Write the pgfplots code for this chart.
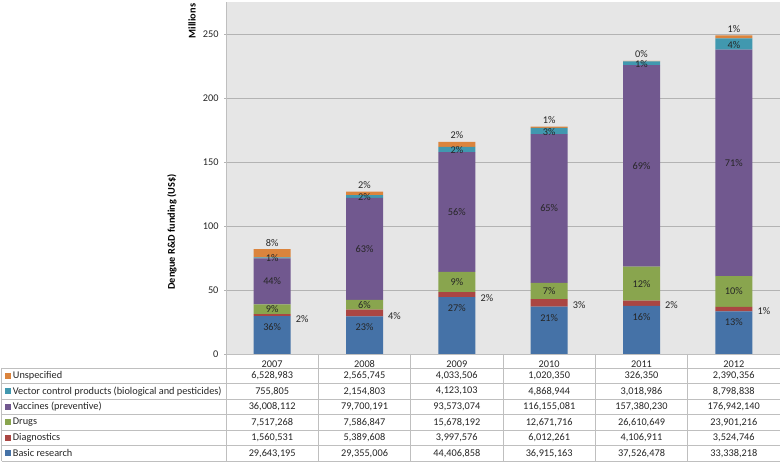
\documentclass[border=0pt]{standalone}
\usepackage{pgfplots}
\pgfplotsset{compat=1.18}
\usepackage{fontspec}
\setmainfont{Carlito}
\definecolor{cB}{HTML}{4572A7}
\definecolor{cD}{HTML}{AA4643}
\definecolor{cG}{HTML}{89A54E}
\definecolor{cV}{HTML}{71588F}
\definecolor{cT}{HTML}{4198AF}
\definecolor{cU}{HTML}{DB843D}
\definecolor{bgc}{HTML}{E6E6E6}
\definecolor{gridc}{HTML}{B3B3B3}
\definecolor{linec}{HTML}{BFBFBF}
\definecolor{txt}{HTML}{262626}
\newcommand{\fs}{\fontsize{10.3}{12}\selectfont}

\pgfplotstableread{
x basic diag drugs vacc vector unspec
0 29.643195 1.560531 7.517268 36.008112 0.755805 6.528983
1 29.355006 5.389608 7.586847 79.700191 2.154803 2.565745
2 44.406858 3.997576 15.678192 93.573074 4.123103 4.033506
3 36.915163 6.012261 12.671716 116.155081 4.868944 1.020350
4 37.526478 4.106911 26.610649 157.380230 3.018986 0.326350
5 33.338218 3.524746 23.901216 176.942140 8.798838 2.390356
}\funding

\pgfplotstableread{
x y lab
0 21.0 36\%
1 20.8 23\%
2 35.8 27\%
3 28.3 21\%
4 28.9 16\%
5 24.7 13\%
0 34.96 9\%
1 38.54 6\%
2 56.24 9\%
3 49.27 7\%
4 54.94 12\%
5 48.82 10\%
0 56.73 44\%
1 82.18 63\%
2 110.87 56\%
3 113.68 65\%
4 146.93 69\%
5 149.24 71\%
0 74.6 1\%
1 122.6 2\%
2 159.2 2\%
3 173.7 3\%
4 226.6 1\%
5 241.6 4\%
0 87.0 8\%
1 131.8 2\%
2 170.8 2\%
3 182.6 1\%
4 234.0 0\%
5 253.9 1\%
}\labsC

\pgfplotstableread{
x y lab
0.2545 27.3 2\%
1.2545 29.7 4\%
2.2545 43.7 2\%
3.2545 38.3 3\%
4.2545 38.3 2\%
5.2545 33.6 1\%
}\labsR

\begin{document}
\begin{tikzpicture}[x=1pt,y=1pt,font=\fs]
\path[use as bounding box] (0,0) rectangle (780,465);
\begin{axis}[
  at={(226pt,111pt)}, anchor=south west,
  scale only axis, width=554pt, height=352pt,
  ybar stacked, bar width=37pt,
  xmin=-0.5, xmax=5.5, ymin=0, ymax=275,
  ytick={0,50,100,150,200,250},
  xtick={0,1,2,3,4,5},
  xticklabels={2007,2008,2009,2010,2011,2012},
  xtick style={draw=none},
  ytick style={draw=gridc},
  tick align=outside, major tick length=4pt,
  ymajorgrids, grid style={draw=gridc, line width=0.6pt},
  axis background/.style={fill=bgc},
  axis x line=bottom, axis y line=left,
  axis line style={draw=linec, -, line width=0.8pt},
  /pgf/number format/assume math mode=true,
  ticklabel style={font=\fs, text=txt},
  xticklabel style={anchor=center, yshift=-8pt},
  yticklabel style={xshift=-2pt},
  ylabel={\bfseries Dengue R\&D funding (US\$)},
  ylabel style={at={(axis description cs:-0.0975,0.3466)}, anchor=center, text=black},
  clip=false,
]
\addplot[fill=cB, draw=none] table[x=x, y=basic] {\funding};
\addplot[fill=cD, draw=none] table[x=x, y=diag] {\funding};
\addplot[fill=cG, draw=none] table[x=x, y=drugs] {\funding};
\addplot[fill=cV, draw=none] table[x=x, y=vacc] {\funding};
\addplot[fill=cT, draw=none] table[x=x, y=vector] {\funding};
\addplot[fill=cU, draw=none] table[x=x, y=unspec] {\funding};
\node[rotate=90, font=\bfseries\fs] at (axis description cs:-0.0614,0.946) {Millions};
\end{axis}
\begin{axis}[
  at={(226pt,111pt)}, anchor=south west,
  scale only axis, width=554pt, height=352pt,
  xmin=-0.5, xmax=5.5, ymin=0, ymax=275,
  hide axis, clip=false,
]
\addplot[draw=none, mark=none, nodes near coords, point meta=explicit symbolic,
  every node near coord/.style={anchor=center, inner sep=0pt, text=txt, font=\fs}]
  table[x=x, y=y, meta=lab] {\labsC};
\addplot[draw=none, mark=none, nodes near coords, point meta=explicit symbolic,
  every node near coord/.style={anchor=west, inner sep=0pt, text=txt, font=\fs}]
  table[x=x, y=y, meta=lab] {\labsR};
\end{axis}
% data table
\foreach \yy in {97,81.5,66,50.5,35,19.5,4} \draw[linec, line width=0.6pt] (1.5,\yy) -- (780,\yy);
\draw[linec, line width=0.6pt] (1.5,97) -- (1.5,4);
\foreach \k in {0,...,6} \draw[linec, line width=0.6pt] ({226+92.333*\k},111) -- ({226+92.333*\k},4);
\foreach \c/\lab [count=\r from 0] in {cU/Unspecified, cT/Vector control products (biological and pesticides), cV/Vaccines (preventive), cG/Drugs, cD/Diagnostics, cB/Basic research}{
  \fill[\c] (4.5,{89.25-15.5*\r-3}) rectangle (10.5,{89.25-15.5*\r+3});
  \node[anchor=west, inner sep=0pt, text=txt] at (12.7,{89.25-15.5*\r}) {\lab};
}
\foreach \a/\b/\c/\d/\e/\f [count=\r from 0] in {
  6{,}528{,}983/2{,}565{,}745/4{,}033{,}506/1{,}020{,}350/326{,}350/2{,}390{,}356,
  755{,}805/2{,}154{,}803/4{,}123{,}103/4{,}868{,}944/3{,}018{,}986/8{,}798{,}838,
  36{,}008{,}112/79{,}700{,}191/93{,}573{,}074/116{,}155{,}081/157{,}380{,}230/176{,}942{,}140,
  7{,}517{,}268/7{,}586{,}847/15{,}678{,}192/12{,}671{,}716/26{,}610{,}649/23{,}901{,}216,
  1{,}560{,}531/5{,}389{,}608/3{,}997{,}576/6{,}012{,}261/4{,}106{,}911/3{,}524{,}746,
  29{,}643{,}195/29{,}355{,}006/44{,}406{,}858/36{,}915{,}163/37{,}526{,}478/33{,}338{,}218}{
  \node[text=txt] at (272.2,{89.25-15.5*\r}) {\a};
  \node[text=txt] at (364.5,{89.25-15.5*\r}) {\b};
  \node[text=txt] at (456.8,{89.25-15.5*\r}) {\c};
  \node[text=txt] at (549.2,{89.25-15.5*\r}) {\d};
  \node[text=txt] at (641.5,{89.25-15.5*\r}) {\e};
  \node[text=txt] at (733.8,{89.25-15.5*\r}) {\f};
}
\end{tikzpicture}
\end{document}
